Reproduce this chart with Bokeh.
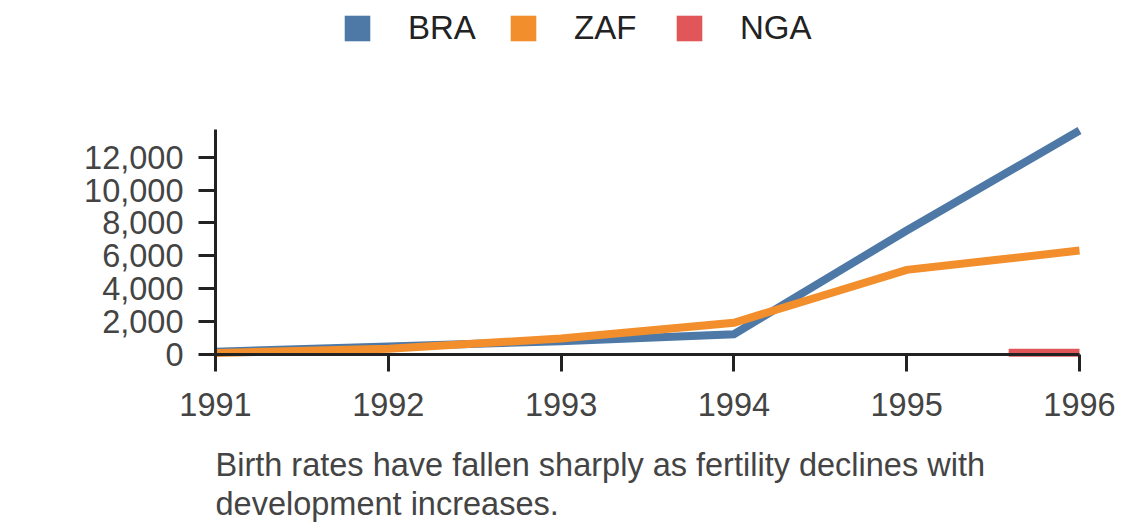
from bokeh.plotting import figure
from bokeh.models import (Range1d, FixedTicker, NumeralTickFormatter, Legend,
                          LegendItem, Label, ColumnDataSource)
from bokeh.embed import file_html
from bokeh.resources import INLINE

years = [1991, 1992, 1993, 1994, 1995, 1996]
bra = [170, 490, 810, 1230, 7540, 13620]
zaf = [90, 350, 970, 1930, 5150, 6320]
nga_years = [1995.59, 1996]
nga = [100, 100]
y_ticks = [0, 2000, 4000, 6000, 8000, 10000, 12000]
series_names = ["BRA", "ZAF", "NGA"]
colors = ["#4e79a7", "#f28e2b", "#e15759"]
caption = "Birth rates have fallen sharply as fertility declines with\ndevelopment increases."

FONT = "Liberation Sans"
W, H = 1124, 528
# pixel geometry of the plotting area
X0_PX, X1_PX = 215.0, 1079.0      # x of first / last year
Y0_PX, Y12_PX = 354.0, 156.7      # y of 0 and 12,000
px_per_year = (X1_PX - X0_PX) / (years[-1] - years[0])
units_per_px = 12000 / (Y0_PX - Y12_PX)
x_start = years[0] - X0_PX / px_per_year
x_end = years[-1] + (W - X1_PX) / px_per_year
y_end = Y0_PX * units_per_px
y_start = -(H - Y0_PX) * units_per_px

p = figure(width=W, height=H, output_backend="svg", toolbar_location=None,
           x_range=Range1d(x_start, x_end), y_range=Range1d(y_start, y_end),
           min_border=0)
p.outline_line_color = None
p.xgrid.visible = False
p.ygrid.visible = False
p.background_fill_color = "white"
p.border_fill_color = "white"

p.line(years, bra, line_width=8, color=colors[0], line_join="miter")
p.line(years, zaf, line_width=8, color=colors[1], line_join="miter")
p.line(nga_years, nga, line_width=8, color=colors[2], line_join="miter")

for ax in (p.xaxis[0], p.yaxis[0]):
    ax.axis_line_width = 3
    ax.axis_line_color = "#222222"
    ax.major_tick_line_width = 3
    ax.major_tick_line_color = "#222222"
    ax.major_tick_out = 17
    ax.major_tick_in = 0
    ax.minor_tick_line_color = None
    ax.major_label_text_font = FONT
    ax.major_label_text_font_size = "32.5px"
    ax.major_label_text_color = "#444444"

p.xaxis[0].ticker = FixedTicker(ticks=years)
p.xaxis[0].fixed_location = 0
p.xaxis[0].bounds = (years[0], years[-1])
p.xaxis[0].major_label_standoff = 21
p.yaxis[0].ticker = FixedTicker(ticks=y_ticks)
p.yaxis[0].formatter = NumeralTickFormatter(format="0,0")
p.yaxis[0].fixed_location = years[0]
p.yaxis[0].bounds = (0, 13660)
p.yaxis[0].major_label_standoff = 15

nan = float("nan")
items = []
for name, c in zip(series_names, colors):
    src = ColumnDataSource(dict(l=[nan], r=[nan], b=[nan], t=[nan]))
    r = p.quad(left="l", right="r", bottom="b", top="t", source=src,
               fill_color=c, line_color=None)
    items.append(LegendItem(label=name, renderers=[r]))

legend = Legend(items=items, orientation="horizontal", location=(341, H - 47),
                glyph_width=32, glyph_height=32, label_standoff=35,
                label_width=99, spacing=0, padding=0, margin=0,
                border_line_color=None, background_fill_alpha=0,
                label_text_font=FONT, label_text_font_size="33px",
                label_text_color="#222222", label_height=32)
p.add_layout(legend, "center")

lab = Label(x=215, y=H - 446, x_units="screen", y_units="screen", text=caption,
            text_font=FONT, text_font_size="32.5px", text_color="#444444",
            text_baseline="top", text_align="left", text_line_height=1.1)
p.add_layout(lab)

open("out.html", "w").write(file_html(p, INLINE))
